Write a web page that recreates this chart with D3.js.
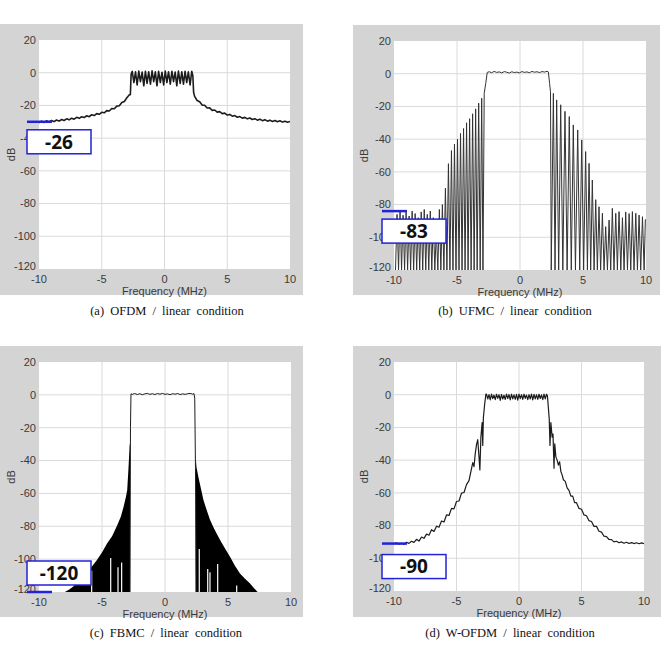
<!DOCTYPE html>
<html>
<head>
<meta charset="utf-8">
<script src="https://cdn.jsdelivr.net/npm/d3@7"></script>
<style>
body{margin:0;background:#fff;}
.tk{font-family:"Liberation Sans",Arial,sans-serif;font-size:11px;fill:#3a3a3a;}
.cap{font-family:"Liberation Serif","Times New Roman",serif;font-size:12.5px;fill:#111;word-spacing:3px;}
.ann{font-family:"Noto Sans",sans-serif;font-weight:700;font-size:19px;fill:#111;}
</style>
</head>
<body>
<div id="chart"></div>
<script>

// axis ticks
let xTicks=[-10,-5,0,5,10];
let yTicks=[20,0,-20,-40,-60,-80,-100,-120];
let captions=["(a)  OFDM  /  linear  condition","(b)  UFMC  /  linear  condition","(c)  FBMC  /  linear  condition","(d)  W-OFDM  /  linear  condition"];
let annTexts=["-26","-83","-120","-90"];
let annLevels=[-30,-84,-120,-91];

// (a) OFDM, [MHz, dB]
let ofdmLeft=[[-10,-30.6],[-9.8,-29.6],[-9.6,-30.4],[-9.4,-29.4],[-9.2,-30.1],[-9,-29.2],[-8.8,-29.9],[-8.6,-28.9],[-8.4,-29.6],[-8.2,-28.6],[-8,-29.2],[-7.8,-28.2],[-7.6,-28.8],[-7.4,-27.8],[-7.2,-28.4],[-7,-27.3],[-6.8,-27.9],[-6.6,-26.9],[-6.4,-27.4],[-6.2,-26.3],[-6,-26.9],[-5.8,-25.7],[-5.6,-26.2],[-5.4,-25],[-5.2,-25.4],[-5,-24.2],[-4.8,-24.5],[-4.6,-23.2],[-4.4,-23.4],[-4.2,-21.9],[-4,-22],[-3.8,-20.4],[-3.6,-20.2],[-3.4,-18.2],[-3.2,-17.6],[-3,-15.3],[-2.8,-13.5]];
let ofdmBand=[[-2.72,-13.5],[-2.66,-1],[-2.57,0.8],[-2.44,-6],[-2.31,0.5],[-2.18,-7.5],[-2.05,1],[-1.92,-5.5],[-1.78,0.4],[-1.65,-8],[-1.52,0.9],[-1.39,-6.5],[-1.26,0.6],[-1.12,-7],[-0.99,1.1],[-0.86,-5.5],[-0.73,0.5],[-0.6,-8],[-0.47,0.8],[-0.33,-6],[-0.2,0.3],[-0.07,-7.5],[0.06,1],[0.19,-6],[0.32,0.6],[0.46,-7],[0.59,0.9],[0.72,-5.5],[0.85,0.4],[0.98,-8],[1.11,1],[1.25,-6.5],[1.38,0.6],[1.51,-7],[1.64,0.8],[1.77,-6],[1.9,0.5],[2.04,-7.5],[2.17,0.9],[2.26,-2],[2.32,-12]];
let ofdmRight=[[2.4,-14.5],[2.6,-17],[2.8,-17.8],[3,-19.8],[3.2,-19.9],[3.4,-21.6],[3.6,-21.5],[3.8,-23],[4,-22.8],[4.2,-24.1],[4.4,-23.8],[4.6,-25],[4.8,-24.7],[5,-25.9],[5.2,-25.5],[5.4,-26.6],[5.6,-26.2],[5.8,-27.2],[6,-26.8],[6.2,-27.8],[6.4,-27.3],[6.6,-28.2],[6.8,-27.7],[7,-28.6],[7.2,-28.1],[7.4,-29],[7.6,-28.4],[7.8,-29.3],[8,-28.7],[8.2,-29.6],[8.4,-29],[8.6,-29.8],[8.8,-29.2],[9,-30],[9.2,-29.4],[9.4,-30.2],[9.6,-29.6],[9.8,-30.3],[10,-29.8]];

// (b) UFMC: lobe peaks and the nulls in front of them
let ufmcLeftNulls=[-9.88,-9.64,-9.40,-9.16,-8.92,-8.68,-8.44,-8.20,-7.96,-7.72,-7.48,-7.24,-7.00,-6.76,-6.52,-6.28,-6.04,-5.80,-5.56,-5.32,-5.08,-4.84,-4.60,-4.36,-4.12,-3.88,-3.64,-3.40,-3.16,-2.94];
let ufmcLeftPeaks=[[-9.76,-86],[-9.52,-84],[-9.28,-86.5],[-9.04,-84.5],[-8.8,-87],[-8.56,-84],[-8.32,-85.5],[-8.08,-88],[-7.84,-84.5],[-7.6,-83],[-7.36,-86],[-7.12,-84],[-6.88,-88],[-6.64,-96],[-6.4,-83],[-6.16,-80],[-5.92,-70],[-5.68,-55],[-5.44,-47],[-5.2,-43],[-4.96,-40],[-4.72,-36.5],[-4.48,-33.5],[-4.24,-30],[-4,-27.5],[-3.76,-24.5],[-3.52,-21.5],[-3.28,-18],[-3.04,-15],[-2.84,-12]];
let ufmcBand=[[-2.72,-6],[-2.6,0.8],[-2.45,1.2],[-2.25,0.6],[-2.05,1.4],[-1.85,0.8],[-1.65,1.1],[-1.45,0.5],[-1.25,1.3],[-1.05,0.9],[-0.85,0.4],[-0.65,1.2],[-0.45,0.7],[-0.25,1],[-0.05,0.5],[0.15,1.3],[0.35,0.8],[0.55,1.1],[0.75,0.6],[0.95,1.4],[1.15,0.9],[1.35,1.2],[1.55,0.7],[1.75,1.3],[1.95,1],[2.15,1.5],[2.25,1.1],[2.35,-6],[2.42,-11]];
let ufmcRightNulls=[2.48,2.78,3.07,3.40,3.74,4.07,4.40,4.74,5.05,5.35,5.61,5.88,6.14,6.40,6.67,6.94,7.20,7.46,7.73,8.00,8.26,8.53,8.79,9.05,9.32,9.58,9.85];
let ufmcRightPeaks=[[2.65,-12],[2.91,-16],[3.23,-19],[3.57,-23],[3.91,-26.2],[4.23,-31.3],[4.58,-34.4],[4.9,-40.5],[5.21,-47.6],[5.48,-54.8],[5.74,-65],[6.01,-77],[6.27,-81.3],[6.54,-85.3],[6.8,-93.5],[7.07,-89.5],[7.33,-82.3],[7.6,-85.3],[7.86,-84.3],[8.13,-88],[8.39,-84.5],[8.66,-85.5],[8.92,-84.3],[9.19,-85.3],[9.45,-86.4],[9.72,-87.4],[9.95,-89]];

// (c) FBMC: passband line, filled sidelobe envelopes, white gaps [MHz, top dB]
let fbmcBand=[[-2.78,-120],[-2.74,-20],[-2.7,0.6],[-2.6,0.3],[-2.4,0.8],[-2.2,0.2],[-2,0.7],[-1.8,0.1],[-1.6,0.6],[-1.4,0.9],[-1.2,0.3],[-1,0.7],[-0.8,0.2],[-0.6,0.8],[-0.4,0.4],[-0.2,0.9],[0,0.3],[0.2,0.6],[0.4,0.1],[0.6,0.7],[0.8,0.4],[1,0.8],[1.2,0.2],[1.4,0.6],[1.6,0.3],[1.8,0.7],[2,0.9],[2.2,0.4],[2.3,0.8],[2.36,-2],[2.42,-45],[2.47,-120]];
let fbmcLeftEnv=[[-7.95,-120],[-7.6,-118.5],[-7.3,-116.8],[-7,-114.5],[-6.6,-111.5],[-6.2,-108.5],[-5.8,-104.5],[-5.4,-100.5],[-5,-96],[-4.6,-90.5],[-4.2,-86],[-3.8,-79.5],[-3.5,-74],[-3.3,-68.5],[-3.1,-62],[-3,-58],[-2.9,-45],[-2.8,-30],[-2.77,-30]];
let fbmcRightEnv=[[2.44,-38],[2.5,-44],[2.65,-50],[2.85,-57],[3.05,-64],[3.3,-70],[3.57,-76],[3.9,-81.5],[4.37,-88.3],[4.8,-94],[5.16,-98.5],[5.55,-104],[5.95,-108.7],[6.35,-112],[6.75,-114.8],[7.05,-117.5],[7.35,-120]];
let fbmcGaps=[[-5.82,-107],[-4.31,-99.3],[-3.73,-105],[-3.44,-102],[2.72,-93.8],[3.39,-106],[3.57,-108],[4.18,-103],[5.69,-116]];

// (d) W-OFDM
let wofdmLeft=[[-10,-91.2],[-9.8,-90.6],[-9.6,-91.4],[-9.4,-90.8],[-9.2,-91.5],[-9,-90.2],[-8.8,-90.9],[-8.6,-89.6],[-8.4,-90.3],[-8.2,-88.4],[-8,-89.5],[-7.8,-87],[-7.6,-87.8],[-7.4,-85.2],[-7.2,-85.9],[-7,-82.5],[-6.8,-83.6],[-6.6,-80.4],[-6.4,-81],[-6.2,-77.2],[-6,-77.8],[-5.8,-73.5],[-5.6,-73.8],[-5.4,-69.5],[-5.2,-69.8],[-5,-65.3],[-4.8,-65],[-4.6,-60.2],[-4.4,-59.8],[-4.2,-55],[-4,-52.5],[-3.85,-47],[-3.7,-41.5],[-3.6,-44],[-3.5,-36],[-3.4,-30.5],[-3.3,-27.5],[-3.2,-38],[-3.13,-46],[-3.05,-26],[-2.95,-17],[-2.9,-31],[-2.85,-14],[-2.75,-6],[-2.65,0.3]];
let wofdmBand=[[-2.6,0.3],[-2.5,-2.6],[-2.4,0.1],[-2.3,-3.2],[-2.2,0.4],[-2.1,-2.4],[-2,-0.2],[-1.9,-3],[-1.8,0.3],[-1.7,-2.2],[-1.6,0],[-1.5,-3.4],[-1.4,0.2],[-1.3,-2.6],[-1.2,-0.3],[-1.1,-2.9],[-1,0.4],[-0.9,-2.3],[-0.8,0.1],[-0.7,-3.1],[-0.6,0.3],[-0.5,-2.5],[-0.4,-0.1],[-0.3,-2.8],[-0.2,0.2],[-0.1,-3.3],[0,0.4],[0.1,-2.4],[0.2,0],[0.3,-2.9],[0.4,0.3],[0.5,-2.2],[0.6,-0.2],[0.7,-3],[0.8,0.1],[0.9,-2.6],[1,0.4],[1.1,-3.2],[1.2,0.2],[1.3,-2.5],[1.4,0],[1.5,-2.8],[1.6,0.3],[1.7,-2.3],[1.8,-0.1],[1.9,-3],[2,0.4],[2.1,-2.6],[2.2,0.3],[2.27,-0.5]];
let wofdmRight=[[2.35,-8],[2.42,-15],[2.48,-31],[2.55,-17],[2.65,-26],[2.72,-24],[2.8,-45],[2.86,-30],[2.95,-38],[3.05,-40],[3.15,-43],[3.25,-41],[3.35,-47],[3.45,-49],[3.55,-52],[3.7,-53],[3.85,-57],[4,-58.5],[4.15,-62],[4.3,-62],[4.45,-66],[4.6,-66],[4.8,-69.5],[5,-70],[5.2,-73.5],[5.4,-74],[5.6,-77],[5.8,-77.5],[6,-80.5],[6.2,-80.5],[6.4,-83.5],[6.6,-84],[6.8,-86.5],[7,-86.8],[7.2,-88.5],[7.4,-88.6],[7.6,-90],[7.8,-89.6],[8,-90.5],[8.2,-90],[8.4,-90.8],[8.6,-90.2],[8.8,-91],[9,-90.4],[9.2,-91],[9.4,-90.5],[9.6,-91.1],[9.8,-90.6],[10,-91]];

let width=665;
let height=646;

// panel frames and plot areas in pixels
let panels=[
  {bg:[0,24,303,295], plot:[39,40,290,269], dbX:11, capX:167, capY:311, boxDy:8, lw:1.6},
  {bg:[353,25,660,295], plot:[394,41,646,270], dbX:364, capX:515, capY:311, boxDy:8, lw:1},
  {bg:[0,346,303,617], plot:[39,362,291,592], dbX:11, capX:166, capY:633, boxDy:-31, lw:1},
  {bg:[353,346,661,617], plot:[394,362,644,591], dbX:364, capX:510, capY:633, boxDy:11, lw:1.2}
];

function lobes(nulls,peaks){
  let out=[];
  for(let i=0;i<peaks.length;i++){
    out.push([nulls[i],-120]);
    out.push(peaks[i]);
  }
  return out;
}

let series=[
  ofdmLeft.concat(ofdmBand,ofdmRight),
  lobes(ufmcLeftNulls,ufmcLeftPeaks).concat(ufmcBand,lobes(ufmcRightNulls,ufmcRightPeaks)),
  fbmcBand,
  wofdmLeft.concat(wofdmBand,wofdmRight)
];

let chart=d3.select("#chart").append("svg")
  .attr("width",width).attr("height",height);

panels.forEach(function(p,i){
  let g=chart.append("g");
  let x=d3.scaleLinear().domain([-10,10]).range([p.plot[0],p.plot[2]]);
  let y=d3.scaleLinear().domain([-120,20]).range([p.plot[3],p.plot[1]]);

  g.append("rect").attr("x",p.bg[0]).attr("y",p.bg[1])
    .attr("width",p.bg[2]-p.bg[0]).attr("height",p.bg[3]-p.bg[1]).attr("fill","#d4d4d4");
  g.append("rect").attr("x",p.plot[0]).attr("y",p.plot[1])
    .attr("width",p.plot[2]-p.plot[0]).attr("height",p.plot[3]-p.plot[1]).attr("fill","#fff");

  // grid
  g.selectAll(".gx").data(xTicks.slice(1,-1)).enter().append("line")
    .attr("x1",d=>x(d)).attr("x2",d=>x(d)).attr("y1",p.plot[1]).attr("y2",p.plot[3])
    .attr("stroke","#dadada").attr("stroke-width",1);
  g.selectAll(".gy").data(yTicks.slice(1,-1)).enter().append("line")
    .attr("y1",d=>y(d)).attr("y2",d=>y(d)).attr("x1",p.plot[0]).attr("x2",p.plot[2])
    .attr("stroke","#dadada").attr("stroke-width",1);

  // tick labels (bottom one nudged up, as in the source plot)
  g.selectAll(".ty").data(yTicks).enter().append("text").attr("class","tk")
    .attr("x",p.plot[0]-3).attr("y",d=>y(d)-(d===-120?3:0)).attr("dy","0.35em")
    .attr("text-anchor","end").text(d=>d);
  g.selectAll(".tx").data(xTicks).enter().append("text").attr("class","tk")
    .attr("x",d=>x(d)).attr("y",p.plot[3]+10).attr("dy","0.35em")
    .attr("text-anchor","middle").text(d=>d);
  g.append("text").attr("class","tk").attr("text-anchor","middle")
    .attr("x",(p.plot[0]+p.plot[2])/2).attr("y",p.plot[3]+22).attr("dy","0.35em")
    .text("Frequency (MHz)");
  g.append("text").attr("class","tk").attr("text-anchor","middle")
    .attr("transform","translate("+p.dbX+","+((p.plot[1]+p.plot[3])/2)+") rotate(-90)")
    .attr("dy","0.35em").text("dB");

  g.append("clipPath").attr("id","clip"+i).append("rect")
    .attr("x",p.plot[0]).attr("y",p.plot[1])
    .attr("width",p.plot[2]-p.plot[0]).attr("height",p.plot[3]-p.plot[1]);
  let body=g.append("g").attr("clip-path","url(#clip"+i+")");

  if(i===2){
    let area=d3.area().x(d=>x(d[0])).y0(y(-120)).y1(d=>y(d[1]));
    body.append("path").datum(fbmcLeftEnv).attr("d",area).attr("fill","#000");
    body.append("path").datum(fbmcRightEnv).attr("d",area).attr("fill","#000");
    body.selectAll(".gap").data(fbmcGaps).enter().append("line")
      .attr("x1",d=>x(d[0])).attr("x2",d=>x(d[0]))
      .attr("y1",y(-120)).attr("y2",d=>y(d[1]))
      .attr("stroke","#fff").attr("stroke-width",1.2);
  }

  let line=d3.line().x(d=>x(d[0])).y(d=>y(d[1]));
  body.append("path").datum(series[i]).attr("d",line)
    .attr("fill","none").attr("stroke",i===1?"#333":"#1c1c1c").attr("stroke-width",p.lw)
    .attr("stroke-linejoin","round");

  // blue level marker and boxed value
  let ly=y(annLevels[i]);
  g.append("line").attr("x1",p.plot[0]-12).attr("x2",p.plot[0]+13)
    .attr("y1",ly).attr("y2",ly).attr("stroke","#2222d8").attr("stroke-width",2.5);
  g.append("rect").attr("x",p.plot[0]-12).attr("y",ly+p.boxDy)
    .attr("width",64).attr("height",24).attr("fill","#fff")
    .attr("stroke","#2222d8").attr("stroke-width",1.5);
  g.append("text").attr("class","ann").attr("text-anchor","middle")
    .attr("x",p.plot[0]+20).attr("y",ly+p.boxDy+12).attr("dy","0.36em")
    .text(annTexts[i]);

  chart.append("text").attr("class","cap").attr("text-anchor","middle")
    .attr("x",p.capX).attr("y",p.capY).attr("dy","0.35em").text(captions[i]);
});

</script>
</body>
</html>
